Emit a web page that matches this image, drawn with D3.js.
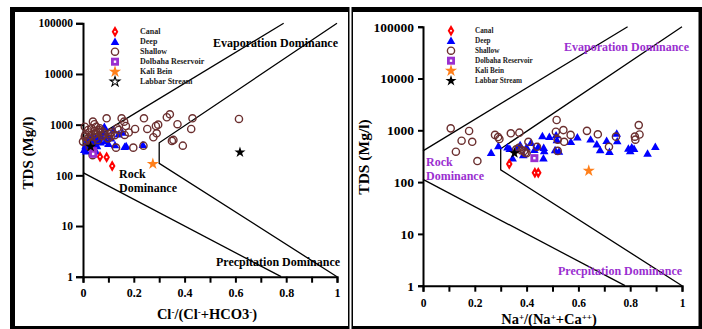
<!DOCTYPE html>
<html>
<head>
<meta charset="utf-8">
<script src="https://cdn.jsdelivr.net/npm/d3@7"></script>
<style>
  html, body { margin: 0; padding: 0; background: #fff; }
  svg { display: block; font-family: "Liberation Serif", "Times New Roman", serif; font-weight: bold; }
</style>
</head>
<body>
<svg id="chart" width="702" height="329"></svg>
<script>
// ---------- Gibbs diagram data ----------
const yTicks = [1, 10, 100, 1000, 10000, 100000];
const xTicks = [0, 0.1, 0.2, 0.3, 0.4, 0.5, 0.6, 0.7, 0.8, 0.9, 1];
const seriesNames = ["Canal", "Deep", "Shallow", "Dolbaha Reservoir", "Kali Bein", "Labbar Stream"];

// Boundary envelope of the Gibbs diagram (ratio, TDS)
const upperBoundary = [[0, 400], [0.79, 100000]];
const lowerBoundary = [[0, 113], [0.78, 1]];
const innerBoundary = [[1, 100000], [0.3, 440], [0.3, 172], [1, 1]];

// Cl-/(Cl- + HCO3-) ratio against TDS (mg/l)
const canalCl = [0.067, 0.093, 0.115];
const canalTdsCl = [233, 227, 153];
const deepCl = [0.005, 0.01, 0.012, 0.015, 0.02, 0.025, 0.03, 0.035, 0.04, 0.045, 0.045, 0.05, 0.05, 0.055, 0.06, 0.065, 0.07, 0.075, 0.08, 0.084, 0.09, 0.095, 0.1, 0.11, 0.12, 0.126, 0.14, 0.155, 0.164, 0.17, 0.236];
const deepTdsCl = [320, 380, 300, 450, 520, 400, 350, 600, 470, 420, 330, 550, 300, 380, 500, 640, 450, 560, 700, 910, 480, 600, 420, 540, 785, 396, 650, 700, 368, 380, 400];
const shallowCl = [0.093, 0.152, 0.162, 0.169, 0.24, 0.205, 0.253, 0.287, 0.296, 0.29, 0.277, 0.33, 0.342, 0.372, 0.431, 0.426, 0.35, 0.356, 0.393, 0.614, 0.238, 0.198, 0.13, 0.109, 0.125, 0.039, 0.007, 0.02, 0.033, 0.052, 0.066, 0.078, 0.046, 0.007, 0.0, 0.02, 0.112, 0.14, 0.164, 0.099, 0.059, 0.033, 0.026, 0.038, 0.01, 0.025, 0.045, 0.06, 0.075, 0.085, 0.015, 0.05, 0.105, 0.135, 0.18, 0.045, 0.03, 0.065];
const shallowTdsCl = [1336, 1336, 1146, 942, 1336, 822, 822, 942, 1000, 676, 564, 1400, 1600, 1020, 1336, 822, 478, 500, 385, 1295, 385, 352, 352, 580, 620, 1146, 910, 785, 850, 910, 850, 725, 650, 580, 463, 537, 705, 785, 627, 537, 500, 427, 368, 250, 640, 700, 760, 720, 600, 640, 480, 560, 650, 850, 700, 1020, 620, 780];
const dolbahaCl = [0.04, 0.04];
const dolbahaTdsCl = [300, 265];
const kaliCl = [0.275];
const kaliTdsCl = [168];
const labbarCl = [0.03, 0.618];
const labbarTdsCl = [368, 285];

// Na+/(Na+ + Ca++) ratio against TDS (mg/l)
const canalNa = [0.333, 0.432, 0.445];
const canalTdsNa = [224, 151, 151];
const deepNa = [0.263, 0.291, 0.326, 0.335, 0.346, 0.375, 0.387, 0.417, 0.445, 0.461, 0.465, 0.466, 0.468, 0.488, 0.51, 0.514, 0.517, 0.571, 0.596, 0.647, 0.671, 0.684, 0.709, 0.72, 0.748, 0.75, 0.793, 0.806, 0.8, 0.815, 0.867, 0.897, 0.36, 0.4, 0.43, 0.525];
const deepTdsNa = [370, 498, 470, 440, 290, 520, 333, 575, 482, 776, 290, 460, 400, 754, 418, 810, 650, 600, 733, 670, 537, 418, 630, 386, 870, 620, 447, 470, 400, 440, 359, 482, 430, 470, 420, 390];
const shallowNa = [0.107, 0.127, 0.149, 0.178, 0.19, 0.21, 0.278, 0.29, 0.295, 0.339, 0.372, 0.37, 0.39, 0.395, 0.407, 0.44, 0.516, 0.513, 0.52, 0.52, 0.542, 0.545, 0.57, 0.633, 0.675, 0.718, 0.745, 0.818, 0.82, 0.833, 0.836, 0.36, 0.38, 0.4];
const shallowTdsNa = [1090, 386, 630, 970, 600, 255, 815, 740, 680, 875, 900, 460, 400, 370, 600, 480, 1580, 940, 660, 400, 1010, 600, 815, 975, 838, 480, 754, 754, 660, 1260, 830, 430, 410, 360];
const dolbahaNa = [0.43];
const dolbahaTdsNa = [290];
const kaliNa = [0.64];
const kaliTdsNa = [166];
const labbarNa = [0.353];
const labbarTdsNa = [362];

// ---------- drawing ----------
const svg = d3.select("#chart");
const purple = "#9a2fd0";
const brown = "#6b2f2f";

// Panel frames
function frame(x0, y0, x1, y1, t) {
  svg.append("rect").attr("x", x0).attr("y", y0).attr("width", x1 - x0).attr("height", y1 - y0).attr("fill", "#000");
  svg.append("rect").attr("x", x0 + t.l).attr("y", y0 + t.t)
    .attr("width", x1 - x0 - t.l - t.r).attr("height", y1 - y0 - t.t - t.b).attr("fill", "#fff");
}
frame(10, 7, 349.5, 329, { l: 5, t: 5, r: 1.5, b: 3 });
frame(351.5, 7, 702, 329, { l: 1.5, t: 5, r: 3.5, b: 3 });

const zip = (xs, ys) => xs.map((v, i) => [v, ys[i]]);

function markers(g, kind, pts, x, y, opts) {
  const sel = g.selectAll(null).data(pts).enter().append("g")
    .attr("transform", d => `translate(${x(d[0])},${y(d[1])})`);
  drawSymbol(sel, kind, opts);
}

function drawSymbol(sel, kind, opts) {
  opts = opts || {};
  if (kind === "Canal") {
    sel.append("path").attr("d", d3.symbol(d3.symbolDiamond, 38)()).attr("fill", "#ff0000");
    sel.append("circle").attr("r", 1).attr("fill", "#fff");
  } else if (kind === "Deep") {
    sel.append("path").attr("d", d3.symbol(d3.symbolTriangle, 32)()).attr("transform", "translate(0,0.8)").attr("fill", "#0000ff");
  } else if (kind === "Shallow") {
    sel.append("circle").attr("r", 3.6).attr("fill", "none").attr("stroke", brown).attr("stroke-width", 1.4);
  } else if (kind === "Dolbaha Reservoir") {
    sel.append("rect").attr("x", -4).attr("y", -4).attr("width", 8).attr("height", 8).attr("fill", purple);
    sel.append("rect").attr("x", -1.2).attr("y", -1.2).attr("width", 2.4).attr("height", 2.4).attr("fill", "#fff");
  } else if (kind === "Kali Bein") {
    sel.append("path").attr("d", d3.symbol(d3.symbolStar, 46)()).attr("fill", "#ff7f1a");
  } else if (kind === "Labbar Stream") {
    if (opts.openStar) {
      sel.append("path").attr("d", d3.symbol(d3.symbolStar, 30)()).attr("fill", "#fff").attr("stroke", "#000").attr("stroke-width", 1.1);
    } else {
      sel.append("path").attr("d", d3.symbol(d3.symbolStar, 38)()).attr("fill", "#000");
    }
  }
}

function panel(cfg) {
  const x = d3.scaleLinear().domain([0, 1]).range(cfg.xr);
  const y = d3.scaleLog().domain([1, 100000]).range(cfg.yr);
  const g = svg.append("g");
  const line = d3.line().x(d => x(d[0])).y(d => y(d[1]));

  // Boundary lines
  [upperBoundary, lowerBoundary, innerBoundary].forEach(b => {
    g.append("path").attr("d", line(b)).attr("fill", "none").attr("stroke", "#000").attr("stroke-width", 1.3);
  });

  // Axes
  const yAxis = d3.axisLeft(y).tickValues(yTicks).tickFormat(d3.format("d"))
    .tickSize(cfg.yTick).tickSizeOuter(cfg.yTick).tickPadding(cfg.yPad);
  const ya = g.append("g").attr("transform", `translate(${cfg.xr[0]},0)`).call(yAxis);
  const xAxis = d3.axisBottom(x).tickValues(xTicks)
    .tickFormat(d => { const k = Math.round(d * 10); return k % 2 ? "" : (k === 0 ? "0" : k === 10 ? "1" : d.toFixed(1)); })
    .tickSize(cfg.xTick).tickSizeOuter(cfg.xTick).tickPadding(cfg.xPad);
  const xa = g.append("g").attr("transform", `translate(0,${cfg.yr[0]})`).call(xAxis);
  [ya, xa].forEach(a => {
    a.selectAll("path, line").attr("stroke", "#000").attr("stroke-width", 2);
    a.selectAll("text").attr("fill", "#000").attr("font-family", "Liberation Serif, serif").attr("font-weight", "bold");
  });
  ya.selectAll("text").attr("font-size", cfg.yFont);
  xa.selectAll("text").attr("font-size", cfg.xFont);

  // Axis titles
  g.append("text").attr("transform", `translate(${cfg.yTitle[0]},${cfg.yTitle[1]}) rotate(-90)`)
    .attr("text-anchor", "middle").attr("font-size", cfg.titleFont).text("TDS (Mg/l)");
  const xt = g.append("text").attr("x", cfg.xTitle[0]).attr("y", cfg.xTitle[1])
    .attr("text-anchor", "middle").attr("font-size", cfg.xTitleFont);
  cfg.xTitleParts.forEach(p => {
    if (p.sup) xt.append("tspan").attr("dy", -4).attr("font-size", cfg.xTitleFont * 0.62).text(p.t);
    else xt.append("tspan").attr("dy", p.after ? 4 : 0).text(p.t);
  });

  // Data markers
  const s = cfg.series;
  markers(g, "Deep", zip(s.deep[0], s.deep[1]), x, y);
  markers(g, "Shallow", zip(s.shallow[0], s.shallow[1]), x, y);
  markers(g, "Canal", zip(s.canal[0], s.canal[1]), x, y);
  markers(g, "Dolbaha Reservoir", zip(s.dolbaha[0], s.dolbaha[1]), x, y);
  markers(g, "Kali Bein", zip(s.kali[0], s.kali[1]), x, y);
  markers(g, "Labbar Stream", zip(s.labbar[0], s.labbar[1]), x, y);

  // Zone labels
  const lab = (t, px, py) => g.append("text").attr("x", px).attr("y", py)
    .attr("font-size", 12).attr("fill", cfg.zoneColor).text(t);
  lab("Evaporation Dominance", cfg.evap[0], cfg.evap[1]);
  lab("Rock", cfg.rock[0], cfg.rock[1]);
  lab("Dominance", cfg.rock[0], cfg.rock[1] + 14);
  lab("Precpitation Dominance", cfg.prec[0], cfg.prec[1]);

  // Legend
  seriesNames.forEach((n, i) => {
    const cy = cfg.legend[1] + i * 10;
    const sg = g.append("g").attr("transform", `translate(${cfg.legend[0]},${cy})`);
    drawSymbol(sg, n, { openStar: cfg.legendOpenStar });
    g.append("text").attr("x", cfg.legend[2]).attr("y", cy + 2.6)
      .attr("font-size", cfg.legendFont).attr("fill", "#222").text(n);
  });
}

panel({
  xr: [83, 337], yr: [276.7, 23.3],
  yTick: 7, yPad: 3, xTick: 6, xPad: 6, yFont: 11.5, xFont: 12, titleFont: 15, xTitleFont: 14.5,
  yTitle: [33, 153], xTitle: [207, 319],
  xTitleParts: [{ t: "Cl" }, { t: "-", sup: true }, { t: "/(Cl", after: true }, { t: "-", sup: true }, { t: "+HCO3", after: true }, { t: "-", sup: true }, { t: ")", after: true }],
  zoneColor: "#000", evap: [213, 47], rock: [119, 178], prec: [216, 266],
  legend: [115, 31.7, 140], legendFont: 8, legendOpenStar: true,
  series: {
    canal: [canalCl, canalTdsCl], deep: [deepCl, deepTdsCl], shallow: [shallowCl, shallowTdsCl],
    dolbaha: [dolbahaCl, dolbahaTdsCl], kali: [kaliCl, kaliTdsCl], labbar: [labbarCl, labbarTdsCl]
  }
});

panel({
  xr: [423, 682], yr: [285.7, 26.7],
  yTick: 5, yPad: 4, xTick: 6, xPad: 7, yFont: 13.5, xFont: 11.5, titleFont: 15.5, xTitleFont: 14.5,
  yTitle: [369, 157], xTitle: [549, 324],
  xTitleParts: [{ t: "Na" }, { t: "+", sup: true }, { t: "/(Na", after: true }, { t: "+", sup: true }, { t: "+Ca", after: true }, { t: "++", sup: true }, { t: ")", after: true }],
  zoneColor: purple, evap: [564, 51], rock: [426, 166], prec: [558, 275],
  legend: [451, 30.7, 475], legendFont: 7.2, legendOpenStar: false,
  series: {
    canal: [canalNa, canalTdsNa], deep: [deepNa, deepTdsNa], shallow: [shallowNa, shallowTdsNa],
    dolbaha: [dolbahaNa, dolbahaTdsNa], kali: [kaliNa, kaliTdsNa], labbar: [labbarNa, labbarTdsNa]
  }
});
</script>
</body>
</html>
